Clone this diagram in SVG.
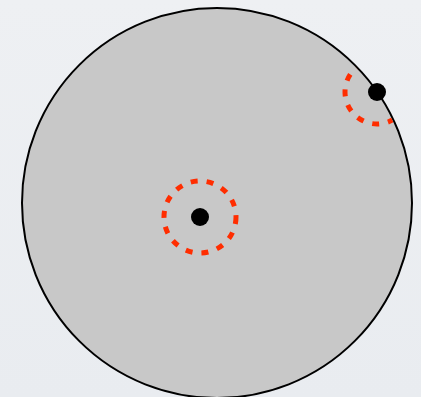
<svg xmlns="http://www.w3.org/2000/svg" width="421" height="397" viewBox="0 0 421 397">
<defs>
<linearGradient id="bg" x1="0" y1="0" x2="0" y2="1">
<stop offset="0" stop-color="#eef0f3"/>
<stop offset="1" stop-color="#e9ecf0"/>
</linearGradient>
<clipPath id="disk"><circle cx="217" cy="203" r="194"/></clipPath>
<style>
.ring{fill:none;stroke:#ff2d00;stroke-width:5;stroke-dasharray:7 9}
.dot{fill:#000}
</style>
</defs>
<rect width="421" height="397" fill="url(#bg)"/>
<g id="disk-node">
<circle cx="217" cy="203" r="195" fill="#c8c8c8" stroke="#000" stroke-width="2"/>
</g>
<g id="center-node">
<circle class="ring" cx="200" cy="217" r="36"/>
<circle class="dot" cx="200" cy="217" r="9"/>
</g>
<g id="edge-node">
<circle class="ring" cx="377" cy="92" r="32" clip-path="url(#disk)"/>
<circle class="dot" cx="377" cy="92" r="9"/>
</g>
<g id="connectors"/>
</svg>
